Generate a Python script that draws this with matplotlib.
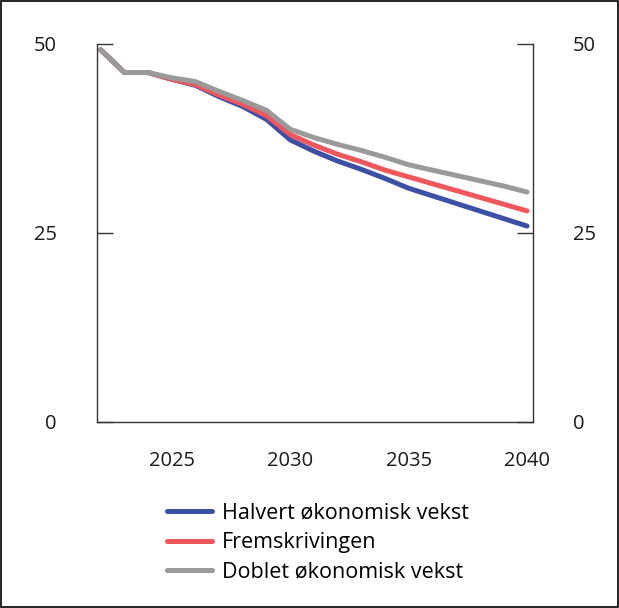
import matplotlib.pyplot as plt
from matplotlib.patches import Rectangle

plt.rcParams['font.family'] = ['Open Sans', 'DejaVu Sans']

years = list(range(2022, 2041))
halvert = [49.2, 46.2, 46.2, 45.3, 44.5, 43.0, 41.7, 40.0, 37.3, 35.8, 34.5, 33.4,
           32.2, 30.9, 29.9, 28.9, 27.9, 26.9, 25.9]
fremskriving = [49.2, 46.2, 46.2, 45.3, 44.6, 43.2, 42.0, 40.5, 38.0, 36.6, 35.4, 34.4,
                33.3, 32.4, 31.5, 30.6, 29.7, 28.8, 27.9]
doblet = [49.2, 46.2, 46.2, 45.5, 45.0, 43.7, 42.5, 41.2, 38.7, 37.6, 36.7, 35.9,
          35.0, 34.0, 33.3, 32.6, 31.9, 31.2, 30.4]
labels = ['Halvert økonomisk vekst', 'Fremskrivingen', 'Doblet økonomisk vekst']
colors = ['#3c50a5', '#f0575d', '#9a9a9a']

fig = plt.figure(figsize=(6.19, 6.08), dpi=100)
ax = fig.add_axes([0.157, 0.306, 0.704, 0.622])

for ys, lab, c in zip([halvert, fremskriving, doblet], labels, colors):
    ax.plot(years, ys, color=c, lw=3.6, label=lab, solid_capstyle='round')

ax.set_xlim(2021.85, 2040.25)
ax.set_ylim(0, 50)
ax.set_xticks([2025, 2030, 2035, 2040])
ax.set_yticks([0, 25, 50])

ax.spines['top'].set_visible(False)
for s in ['left', 'right', 'bottom']:
    ax.spines[s].set_color('#333333')
    ax.spines[s].set_linewidth(1.0)

ax.tick_params(axis='x', length=0, pad=21, labelsize=14.5, colors='#1a1a1a')
ax.tick_params(axis='y', direction='in', length=11.5, width=1, color='#333333',
               pad=29, labelsize=14.5, labelcolor='#1a1a1a',
               right=True, labelright=True)

leg = fig.legend(loc='upper left', bbox_to_anchor=(0.238, 0.205), frameon=False,
                 fontsize=15.5, handlelength=2.1, handletextpad=0.45, labelspacing=0.4)
for line in leg.get_lines():
    line.set_linewidth(3.6)

fig.patches.append(Rectangle((0.001, 0.001), 0.997, 0.997, transform=fig.transFigure,
                             fill=False, edgecolor='black', lw=1.2))

fig.savefig('out.png', dpi=100)
